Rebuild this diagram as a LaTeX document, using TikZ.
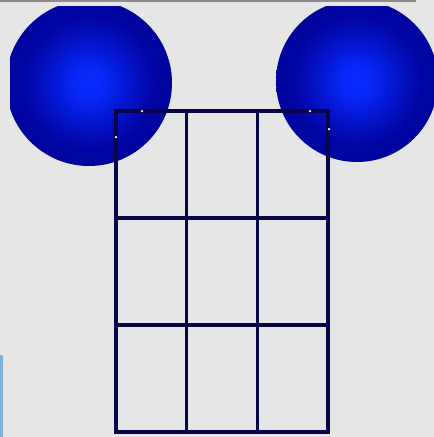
\documentclass[tikz,border=0pt]{standalone}
\usepackage{tikz}
\usetikzlibrary{calc}
\definecolor{bgray}{RGB}{230,230,230}
\definecolor{topline}{RGB}{140,140,140}
\definecolor{sidebar}{RGB}{128,180,220}
\definecolor{gridnavy}{RGB}{6,6,70}
\definecolor{ballhi}{RGB}{10,44,255}
\definecolor{ballmid}{RGB}{0,10,200}
\definecolor{balledge}{RGB}{0,0,132}
\pgfdeclareradialshading{ball}{\pgfpoint{0bp}{0bp}}{%
	color(0bp)=(ballhi); color(5bp)=(ballhi!80!ballmid); color(20bp)=(ballmid!45!balledge); color(50bp)=(balledge)}
\tikzstyle{gridline} = [line width = 3.5, color = gridnavy, line cap = rect]
\tikzstyle{speck} = [fill = white, inner sep = 0pt, minimum size = 2.5pt, circle]
\newcommand{\ball}[3]{\shade[shading=ball] (#1,#2) circle (#3);}

\begin{document}
\begin{tikzpicture}[x=1pt,y=-1pt]
	
	% Background
	\fill[bgray] (0,0) rectangle (434,437);
	\useasboundingbox (0,0) rectangle (434,437);
	\draw[topline, line width = 1.5] (0,1.2) -- (416,1.2);
	\fill[sidebar] (0,355) rectangle (2.5,437);
	
	% Balls
	\begin{scope}
		\clip (10,6) rectangle (434,437);
		\ball{89}{83}{83}
		\ball{357}{81}{81}
	\end{scope}
	
	% Grid
	\foreach \i in {0,...,3}
	{
		\draw[gridline] ({116+\i*70.67},111) -- ({116+\i*70.67},432);
		\draw[gridline] (116,{111+\i*107}) -- (328,{111+\i*107});
	};
	
	% Specks
	\node[speck] (s1) at (142,111) {};
	\node[speck] (s2) at (116,137) {};
	\node[speck] (s3) at (310,111) {};
	\node[speck] (s4) at (329,129) {};

\end{tikzpicture}
\end{document}
